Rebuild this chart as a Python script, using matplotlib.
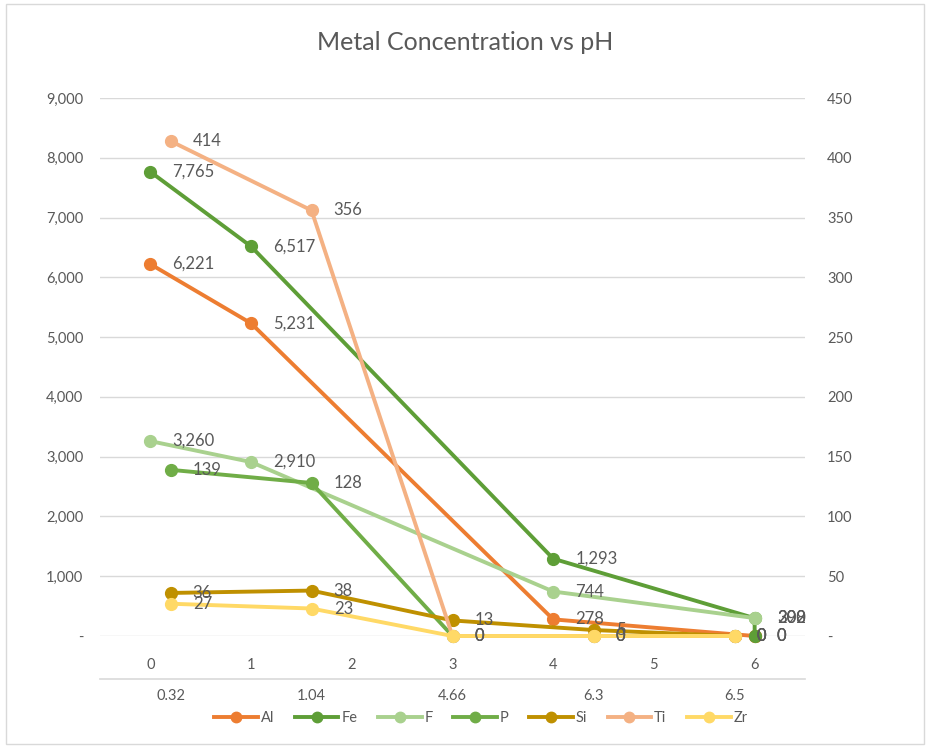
import matplotlib
matplotlib.use("Agg")
import matplotlib.pyplot as plt
from matplotlib.lines import Line2D
from matplotlib.patches import Rectangle
from matplotlib.ticker import FuncFormatter, MultipleLocator

# ---------------- data ----------------
ph_labels = ["0.32", "1.04", "4.66", "6.3", "6.5"]     # secondary category axis
primary_x_ticks = [0, 1, 2, 3, 4, 5, 6]                # primary value axis ticks
primary_x = [0, 1, 4, 6, 6]                            # x used by primary series

series_names = ["Al", "Fe", "F", "P", "Si", "Ti", "Zr"]
al = [6221, 5231, 278, 0, 0]
fe = [7765, 6517, 1293, 298, 0]
f_ = [3260, 2910, 744, 300, 302]
p = [139, 128, 0, 0, 0]
si = [36, 38, 13, 5, 0]
ti = [414, 356, 0, 0, 0]
zr = [27, 23, 0, 0, 0]

colors = {
    "Al": "#ED7D31", "Fe": "#5E9E37", "F": "#A9D18E", "P": "#70AD47",
    "Si": "#BF9000", "Ti": "#F4B183", "Zr": "#FFD966",
}

FONT = "Lato"
TXT = "#595959"
plt.rcParams["font.family"] = [FONT, "DejaVu Sans"]

fig = plt.figure(figsize=(9.3, 7.48), dpi=100)
W, H = 930, 748
L, R, T, B = 100, 805, 98, 636
rect = [L / W, 1 - B / H, (R - L) / W, (B - T) / H]

ax = fig.add_axes(rect)
ax2 = fig.add_axes(rect, frameon=False)
ax2.patch.set_visible(False)

# outer border
fig.patches.append(Rectangle((6 / W, 4 / H), 918 / W, 740 / H, transform=fig.transFigure,
                             fill=False, edgecolor="#d9d9d9", lw=1))

# primary axes
ax.set_xlim(-0.5, 6.5)
ax.set_ylim(0, 9000)
ax.yaxis.set_major_locator(MultipleLocator(1000))
ax.yaxis.set_major_formatter(FuncFormatter(lambda v, _: "-" if v == 0 else f"{int(v):,}"))
ax.set_xticks(primary_x_ticks)
ax.set_xticklabels([str(t) for t in primary_x_ticks])
ax.grid(axis="y", color="#d9d9d9", lw=1)
ax.set_axisbelow(True)
for s in ax.spines.values():
    s.set_visible(False)
ax.tick_params(axis="y", length=0, pad=12, labelsize=10.5, labelcolor=TXT)
ax.tick_params(axis="x", length=0, pad=16, labelsize=10.5, labelcolor=TXT)

# secondary axes
ax2.set_xlim(-0.5, len(ph_labels) - 0.5)
ax2.set_ylim(0, 450)
ax2.yaxis.set_major_locator(MultipleLocator(50))
ax2.yaxis.set_major_formatter(FuncFormatter(lambda v, _: "-" if v == 0 else f"{int(v)}"))
ax2.yaxis.tick_right()
ax2.set_xticks(range(len(ph_labels)))
ax2.set_xticklabels(ph_labels)
ax2.tick_params(axis="y", length=0, pad=16, labelsize=10.5, labelcolor=TXT)
ax2.tick_params(axis="x", length=0, pad=38.5, labelsize=10.5, labelcolor=TXT)

# axis line between the two x-label rows
ax.add_line(Line2D([0, 1], [-(679 - B) / (B - T)] * 2, transform=ax.transAxes,
                   color="#d9d9d9", lw=1.2, clip_on=False))

LW, MS = 2.8, 8.5

def draw(axis, xs, ys, name, fmt):
    axis.plot(xs, ys, color=colors[name], lw=LW, marker="o", ms=MS, solid_joinstyle="round",
              clip_on=False, zorder=3)
    for x, y in zip(xs, ys):
        axis.annotate(fmt(y), (x, y), xytext=(16, 0), textcoords="offset points",
                      ha="left", va="center", fontsize=12, color=TXT, zorder=5,
                      annotation_clip=False)

prim_fmt = lambda v: f"{v:,}"
sec_fmt = lambda v: f"{v}"
cat_x = list(range(len(ph_labels)))

draw(ax, primary_x, al, "Al", prim_fmt)
draw(ax, primary_x, fe, "Fe", prim_fmt)
draw(ax, primary_x, f_, "F", prim_fmt)
draw(ax2, cat_x, p, "P", sec_fmt)
draw(ax2, cat_x, si, "Si", sec_fmt)
draw(ax2, cat_x, ti, "Ti", sec_fmt)
draw(ax2, cat_x, zr, "Zr", sec_fmt)

fig.text(465 / W, 1 - 42 / H, "Metal Concentration vs pH", ha="center", va="center",
         fontsize=18, color=TXT)

handles = [Line2D([], [], color=colors[n], lw=LW, marker="o", ms=MS - 1) for n in series_names]
fig.legend(handles, series_names, loc="center", bbox_to_anchor=(481 / W, 1 - 718 / H),
           ncol=7, frameon=False, fontsize=10.5, handlelength=3.0, handletextpad=0.2,
           columnspacing=1.4, labelcolor=TXT, borderaxespad=0)

fig.savefig("out.png", dpi=100)
